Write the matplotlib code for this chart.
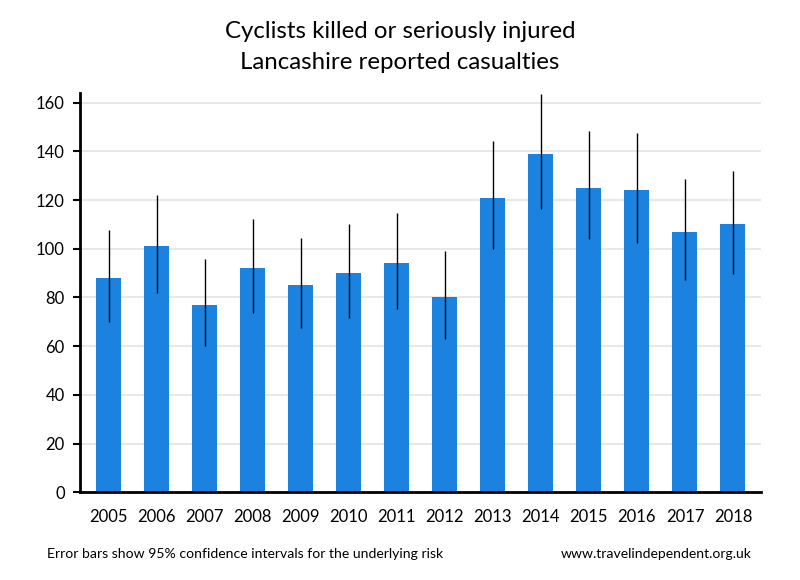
import matplotlib
matplotlib.use("Agg")
import matplotlib.pyplot as plt

years = ["2005", "2006", "2007", "2008", "2009", "2010", "2011",
         "2012", "2013", "2014", "2015", "2016", "2017", "2018"]
casualties = [88, 101, 77, 92, 85, 90, 94, 80, 121, 139, 125, 124, 107, 110]
ci_low = [70, 82, 60, 73.6, 67.6, 71.7, 75.4, 63, 100, 116.5, 103.8, 102.5, 87.3, 89.8]
ci_high = [107.7, 122, 95.8, 112.2, 104.4, 110.2, 114.7, 99.1, 144.3, 163.6, 148.4, 147.6, 128.7, 131.9]

plt.rcParams['font.family'] = ['Lato', 'DejaVu Sans']

fig = plt.figure(figsize=(8, 5.8), dpi=100)
ax = fig.add_axes([0.1, 0.151, 0.851, 0.689])

x = list(range(len(years)))
err = [[c - lo for c, lo in zip(casualties, ci_low)],
       [hi - c for c, hi in zip(casualties, ci_high)]]
ax.bar(x, casualties, width=0.52, color='#1b82e0', zorder=2)
ax.errorbar(x, casualties, yerr=err, fmt='none', ecolor='black',
            elinewidth=1, capsize=0, zorder=3)

ax.set_xlim(-0.6, 13.58)
ax.set_ylim(0, 164)
ax.set_yticks(range(0, 161, 20))
ax.set_xticks(x)
ax.set_xticklabels(years)
ax.tick_params(axis='x', length=0, pad=12, labelsize=12)
ax.tick_params(axis='y', length=5, width=1.5, pad=6, labelsize=12)
ax.yaxis.grid(True, color='#e8e8e8', linewidth=1.5, zorder=0)
ax.set_axisbelow(True)

for side in ['top', 'right']:
    ax.spines[side].set_visible(False)
ax.spines['left'].set_linewidth(2)
ax.spines['bottom'].set_linewidth(2)

fig.text(0.5, 0.945, "Cyclists killed or seriously injured", ha='center',
         va='center', fontsize=17.3)
fig.text(0.5, 0.892, "Lancashire reported casualties", ha='center',
         va='center', fontsize=17.3)
fig.text(0.059, 0.045, "Error bars show 95% confidence intervals for the underlying risk",
         ha='left', va='center', fontsize=10.1)
fig.text(0.94, 0.045, "www.travelindependent.org.uk", ha='right',
         va='center', fontsize=10.1)

fig.savefig('out.png', dpi=100)
